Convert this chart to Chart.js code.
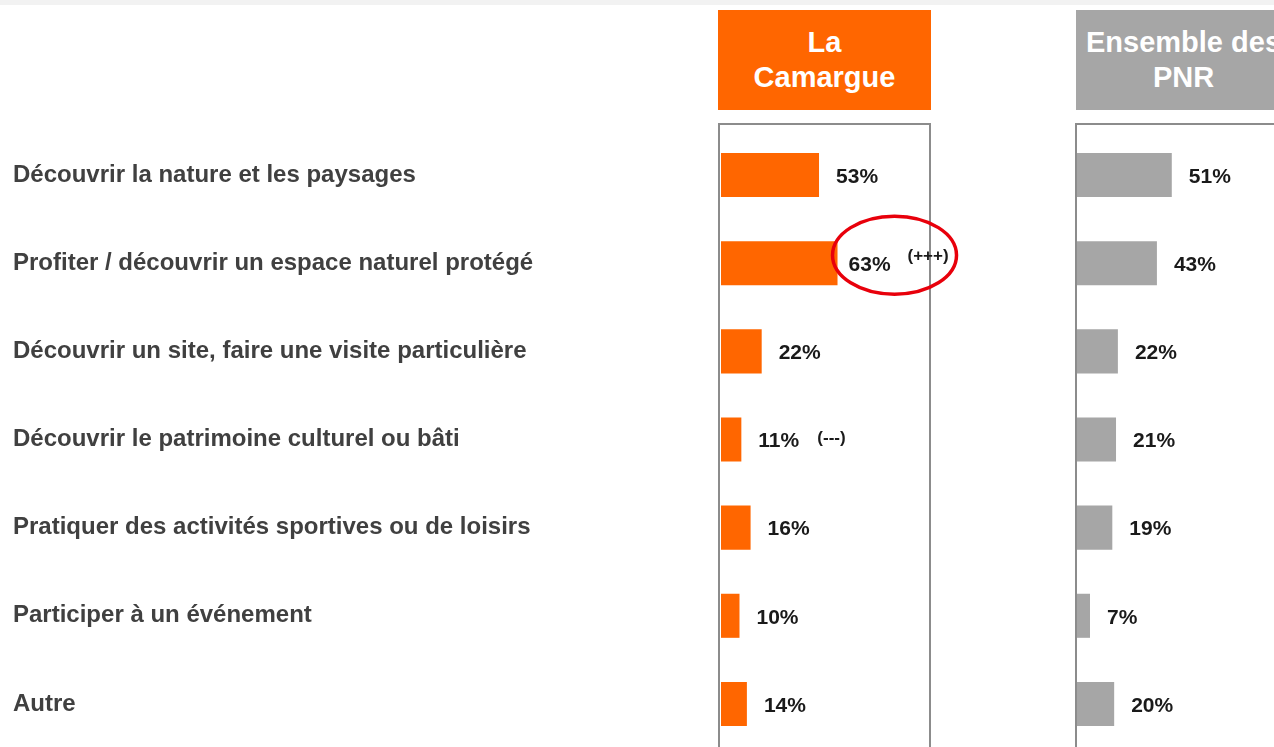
<!DOCTYPE html>
<html>
<head>
<meta charset="utf-8">
<script src="https://cdn.jsdelivr.net/npm/chart.js@4"></script>
<style>
  html, body { margin: 0; padding: 0; background: #fff; }
  body { width: 1274px; height: 747px; position: relative; overflow: hidden; font-family: "Liberation Sans", Arial, sans-serif; }
  .topband { position: absolute; left: 0; top: 0; width: 1274px; height: 5px; background: #f2f2f2; }
  .head { position: absolute; top: 10px; height: 100px; width: 213px; color: #fff; font-weight: bold; font-size: 29px; line-height: 35px; text-align: center; display: flex; align-items: center; justify-content: center; }
  .frame { position: absolute; top: 123px; height: 640px; border: 2px solid #8c8c8c; border-bottom: none; box-sizing: border-box; }
  canvas { position: absolute; }
</style>
</head>
<body>
<div class="topband"></div>
<div class="head" style="left:718px;background:#ff6600;">La<br>Camargue</div>
<div class="head" style="left:1076px;width:215px;background:#a6a6a6;white-space:nowrap;">Ensemble des<br>PNR</div>
<div class="frame" style="left:718px;width:213px;"></div>
<div class="frame" style="left:1075px;width:230px;"></div>
<div style="position:absolute;left:0;top:131px;width:1000px;height:617px;"><canvas id="camargue"></canvas></div>
<div style="position:absolute;left:1077px;top:131px;width:197px;height:617px;"><canvas id="pnr"></canvas></div>
<script>
const categories = [
  'Découvrir la nature et les paysages',
  'Profiter / découvrir un espace naturel protégé',
  'Découvrir un site, faire une visite particulière',
  'Découvrir le patrimoine culturel ou bâti',
  'Pratiquer des activités sportives ou de loisirs',
  'Participer à un événement',
  'Autre'
];
const camargueValues = [53, 63, 22, 11, 16, 10, 14];
const pnrValues = [51, 43, 22, 21, 19, 7, 20];
const camargueSignif = ['', '(+++)', '', '(---)', '', '', ''];
const circled = [1];

// value labels + significance marks drawn next to each bar
const valueLabels = {
  id: 'valueLabels',
  afterDatasetsDraw(chart, args, opts) {
    const ctx = chart.ctx;
    const meta = chart.getDatasetMeta(0);
    const signif = opts.signif || [];
    const ringed = opts.circled || [];
    ctx.save();
    meta.data.forEach((bar, i) => {
      const tx = bar.x + (ringed.includes(i) ? 11 : 17);
      ctx.fillStyle = '#1a1a1a';
      ctx.font = 'bold 21px "Liberation Sans", Arial, sans-serif';
      ctx.textAlign = 'left';
      ctx.textBaseline = 'middle';
      ctx.fillText(chart.data.datasets[0].data[i] + '%', tx, bar.y + 2);
      if (signif[i]) {
        ctx.font = 'bold 17px "Liberation Sans", Arial, sans-serif';
        ctx.fillText(signif[i], tx + 59, bar.y - (ringed.includes(i) ? 7 : 1));
      }
      if (ringed.includes(i)) {
        ctx.strokeStyle = '#e8000b';
        ctx.lineWidth = 3.5;
        ctx.beginPath();
        ctx.ellipse(bar.x + 57, bar.y - 8, 62, 39, 0, 0, Math.PI * 2);
        ctx.stroke();
      }
    });
    ctx.restore();
  }
};

function makeChart(id, values, color, withLabels, max, signif, padding) {
  return new Chart(document.getElementById(id), {
    type: 'bar',
    data: {
      labels: categories,
      datasets: [{
        data: values,
        backgroundColor: color,
        barPercentage: 0.5,
        categoryPercentage: 1
      }]
    },
    options: {
      indexAxis: 'y',
      responsive: true,
      maintainAspectRatio: false,
      animation: false,
      layout: { padding: padding },
      plugins: {
        legend: { display: false },
        tooltip: { enabled: false },
        valueLabels: { signif: signif, circled: signif ? circled : [] }
      },
      scales: {
        x: { display: false, min: 0, max: max },
        y: {
          display: withLabels,
          grid: { display: false, drawTicks: false },
          border: { display: false },
          ticks: {
            display: withLabels,
            crossAlign: 'far',
            padding: 0,
            color: '#404040',
            font: { family: '"Liberation Sans", Arial, sans-serif', size: 24, weight: 'bold' }
          },
          afterFit(axis) {
            if (withLabels) axis.width = 721 - 13;
            axis.paddingTop = 0;
            axis.paddingBottom = 0;
          }
        }
      }
    },
    plugins: [valueLabels]
  });
}

makeChart('camargue', camargueValues, '#ff6600', true, 113, camargueSignif, { left: 13, right: 70, top: 0, bottom: 0 });
makeChart('pnr', pnrValues, '#a6a6a6', false, 106, null, 0);
</script>
</body>
</html>
